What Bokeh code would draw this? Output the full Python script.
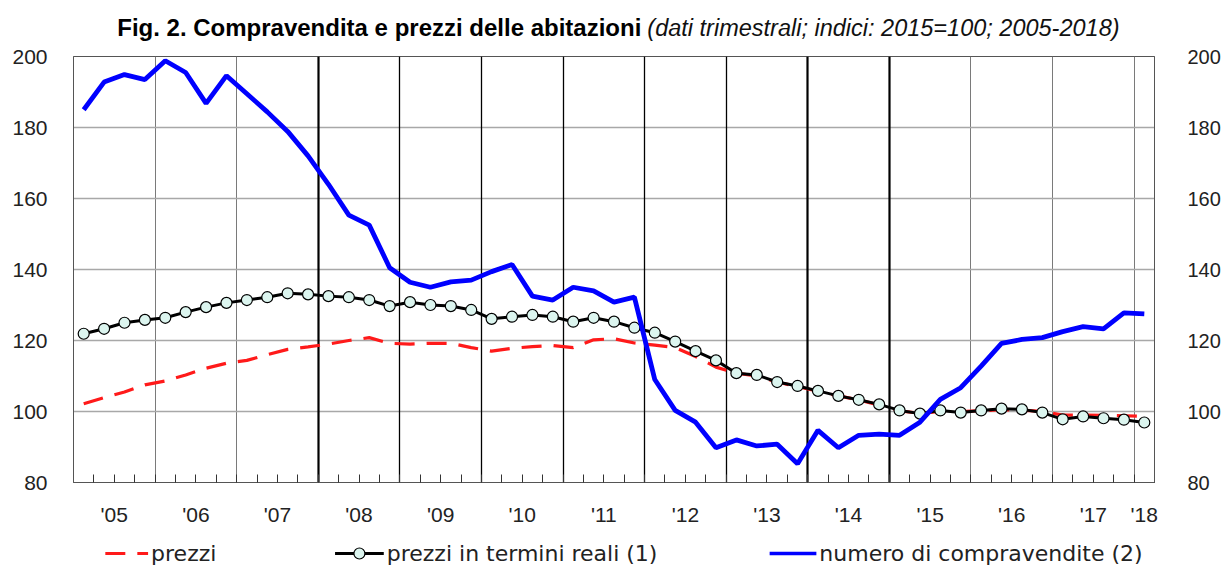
from bokeh.plotting import figure
from bokeh.layouts import column
from bokeh.models import (Range1d, LinearAxis, FixedTicker, Grid, Label,
                          ColumnDataSource)
from bokeh.embed import file_html
from bokeh.resources import INLINE

# ---------------- data ----------------
quarters = [f"{y}Q{q}" for y in range(2005, 2019) for q in range(1, 5)][:53]

prezzi = [102.2, 103.9, 105.5, 107.5, 108.6, 110.3, 112.2, 113.6, 114.4, 116.0,
          117.5, 118.2, 119.0, 120.0, 120.8, 119.2, 119.0, 119.2, 119.2, 118.0,
          117.0, 117.8, 118.3, 118.6, 118.0, 120.2, 120.5, 119.3, 118.7, 118.0,
          115.5, 112.5, 110.8, 110.0, 108.3, 107.0, 105.7, 104.4, 103.3, 101.8,
          100.2, 99.5, 100.0, 100.0, 100.2, 100.5, 100.4, 100.0, 99.0, 99.0,
          98.9, 98.8, 98.6]

prezzi_reali = [121.9, 123.3, 125.0, 125.8, 126.4, 128.0, 129.4, 130.6, 131.4, 132.2,
                133.3, 133.0, 132.5, 132.2, 131.4, 129.7, 130.8, 130.0, 129.7, 128.6,
                126.1, 126.7, 127.2, 126.7, 125.3, 126.4, 125.3, 123.6, 122.2, 119.7,
                117.0, 114.4, 110.8, 110.3, 108.3, 107.2, 105.8, 104.4, 103.3, 102.0,
                100.3, 99.4, 100.3, 99.7, 100.3, 100.8, 100.6, 99.7, 97.8, 98.6,
                98.1, 97.7, 96.9]

compravendite = [185.0, 192.8, 194.9, 193.5, 198.8, 195.5, 186.8, 194.6, 189.5, 184.4,
                 178.9, 172.0, 164.0, 155.3, 152.5, 140.5, 136.4, 135.0, 136.5, 137.0,
                 139.4, 141.4, 132.5, 131.4, 135.0, 134.0, 130.8, 132.2, 109.0, 100.3,
                 97.0, 89.8, 92.0, 90.3, 90.8, 85.3, 94.7, 89.8, 93.3, 93.6,
                 93.3, 97.0, 103.4, 106.7, 112.8, 119.2, 120.3, 120.8, 122.5, 123.9,
                 123.3, 127.8, 127.5]

year_labels = ["'05", "'06", "'07", "'08", "'09", "'10", "'11", "'12", "'13",
               "'14", "'15", "'16", "'17", "'18"]
year_label_pos = [2005.5, 2006.5, 2007.5, 2008.5, 2009.5, 2010.5, 2011.5, 2012.5,
                  2013.5, 2014.5, 2015.5, 2016.5, 2017.5, 2018.125]
y_ticks = [80, 100, 120, 140, 160, 180, 200]
grey_years = [2006, 2007, 2016, 2017, 2018]
black_years = [2009, 2010, 2011, 2012, 2013]
bold_years = [2008, 2014, 2015]

title_bold = "Fig. 2. Compravendita e prezzi delle abitazioni"
title_italic = "(dati trimestrali; indici: 2015=100; 2005-2018)"
legend_labels = ["prezzi", "prezzi in termini reali (1)", "numero di compravendite (2)"]

# ---------------- layout constants (pixels) ----------------
W = 1223
FL, FR = 73, 1160          # frame left / right on the canvas
FONT = "Liberation Sans"

xq = [int(q[:4]) + (int(q[-1]) - 0.5) / 4 for q in quarters]
quarter_bounds = [int(q[:4]) + (int(q[-1])) / 4 for q in quarters]
src = ColumnDataSource(dict(x=xq, prezzi=prezzi, reali=prezzi_reali, comp=compravendite))


def strip(height):
    f = figure(width=W, height=height, x_range=Range1d(FL, FR),
               y_range=Range1d(0, height), x_axis_type=None, y_axis_type=None,
               output_backend="svg", toolbar_location=None,
               min_border_left=FL, min_border_right=W - FR,
               min_border_top=0, min_border_bottom=0)
    f.outline_line_color = None
    f.background_fill_color = "white"
    f.border_fill_color = "white"
    return f


# --- title strip (canvas y 0..44) ---
tf = strip(44)
tf.add_layout(Label(x=644, y=17, text=title_bold, text_align="right",
                    text_baseline="middle", text_font=FONT,
                    text_font_style="bold", text_font_size="24px", text_color="black"))
tf.add_layout(Label(x=650, y=17, text=title_italic, text_align="left",
                    text_baseline="middle", text_font=FONT,
                    text_font_style="italic", text_font_size="23.5px", text_color="#111111"))

# --- main chart (canvas y 44..528) ---
p = figure(width=W, height=484, x_range=Range1d(2005, 2018.25),
           y_range=Range1d(80, 200), output_backend="svg", toolbar_location=None,
           min_border_left=FL, min_border_right=W - FR, min_border_top=12,
           min_border_bottom=42)
p.background_fill_color = "white"
p.border_fill_color = "white"
p.outline_line_color = "#555555"
p.outline_line_width = 1

p.ygrid.ticker = FixedTicker(ticks=y_ticks)
p.ygrid.grid_line_color = "#a8a8a8"
p.ygrid.grid_line_width = 1.5
p.xgrid.ticker = FixedTicker(ticks=grey_years)
p.xgrid.grid_line_color = "#7a7a7a"
p.xgrid.grid_line_width = 1
p.add_layout(Grid(dimension=0, ticker=FixedTicker(ticks=black_years),
                  grid_line_color="black", grid_line_width=1.3))
p.add_layout(Grid(dimension=0, ticker=FixedTicker(ticks=bold_years),
                  grid_line_color="black", grid_line_width=2.2))

xa = p.xaxis[0]
xa.ticker = FixedTicker(ticks=year_label_pos, minor_ticks=quarter_bounds)
xa.major_label_overrides = {pos: lab for pos, lab in zip(year_label_pos, year_labels)}
xa.major_tick_line_color = None
xa.minor_tick_in = 8
xa.minor_tick_out = 0
xa.minor_tick_line_color = "#333333"
xa.axis_line_color = "#555555"
xa.major_label_standoff = 14
xa.major_label_text_font = FONT
xa.major_label_text_font_size = "21px"
xa.major_label_text_color = "#222222"

ya = p.yaxis[0]
ya.ticker = FixedTicker(ticks=y_ticks)
ya.major_tick_line_color = None
ya.minor_tick_line_color = None
ya.axis_line_color = "#555555"
ya.major_label_standoff = 20
ya.major_label_text_font = FONT
ya.major_label_text_font_size = "21px"
ya.major_label_text_color = "#222222"

ra = LinearAxis(ticker=FixedTicker(ticks=y_ticks))
ra.major_tick_line_color = None
ra.minor_tick_line_color = None
ra.axis_line_color = "#555555"
ra.major_label_standoff = 27
ra.major_label_text_font = FONT
ra.major_label_text_font_size = "20px"
ra.major_label_text_color = "#222222"
p.add_layout(ra, "right")

RED, BLUE, FILL = "#ff1a1a", "#0000ff", "#dcf5ef"
p.line("x", "prezzi", source=src, line_color=RED, line_width=3.2, line_dash="20 12")
p.line("x", "reali", source=src, line_color="black", line_width=3)
p.scatter("x", "reali", source=src, marker="circle", size=11,
          fill_color=FILL, line_color="black", line_width=1.2)
p.line("x", "comp", source=src, line_color=BLUE, line_width=4.8)

# --- legend strip (canvas y 528..566), keys drawn in pixel coordinates ---
lf = strip(38)
LY = 13
key_x0 = [105, 336, 773]
key_x1 = [148, 385, 820]
lf.segment(x0=key_x0[0], y0=LY, x1=key_x1[0], y1=LY, line_color=RED,
           line_width=3.2, line_dash="20 12")
lf.segment(x0=key_x0[1], y0=LY, x1=key_x1[1], y1=LY, line_color="black", line_width=3)
lf.scatter(x=[(key_x0[1] + key_x1[1]) / 2], y=[LY], marker="circle", size=11,
           fill_color=FILL, line_color="black", line_width=1.2)
lf.segment(x0=key_x0[2], y0=LY, x1=key_x1[2], y1=LY, line_color=BLUE, line_width=3.5)
for xe, lab in zip(key_x1, legend_labels):
    lf.add_layout(Label(x=xe + 3, y=LY, text=lab, text_align="left",
                        text_baseline="middle", text_font="DejaVu Sans",
                        text_font_size="22px", text_color="#222222"))

layout = column(tf, p, lf, spacing=0)
open("out.html", "w").write(file_html(layout, INLINE))
